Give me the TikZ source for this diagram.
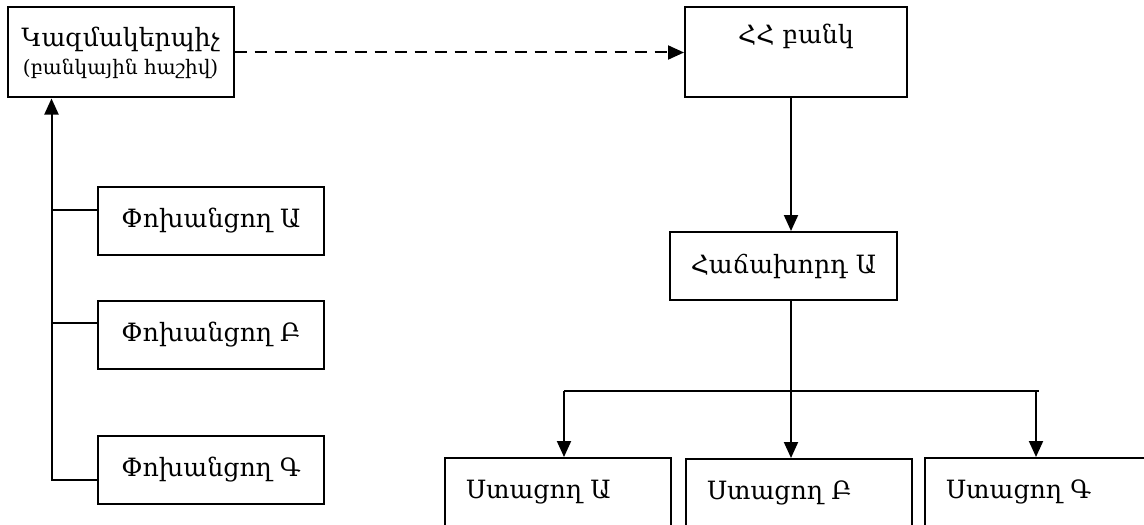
\documentclass[tikz,border=0pt]{standalone}
\usepackage{fontspec}
\setmainfont{DejaVu Serif}
\usetikzlibrary{arrows.meta,positioning,calc}

\begin{document}
\begin{tikzpicture}[
    x=0.5pt, y=-0.5pt,
    box/.style={rectangle, draw=black, line width=1pt, minimum width=113pt, minimum height=34pt, align=center, font=\fontsize{12.6}{14}\selectfont, inner sep=0pt},
    topbox/.style={box, minimum height=45pt},
    bankbox/.style={topbox, minimum width=111pt, text height=10pt, text depth=19pt},
    recv/.style={box, anchor=north west, text width=92pt, align=left, inner xsep=10.5pt, inner ysep=0pt, text height=20pt, text depth=40pt},
    arrow/.style={-{Triangle[length=8pt,width=7pt]}, line width=1pt, black},
    link/.style={line width=1pt, black},
]

\useasboundingbox (0,0) rectangle (1144,524);

% --- Payer side ---
\node[topbox] (org) at (120.5,52.5) {Կազմակերպիչ\\{\fontsize{10}{12}\selectfont (բանկային հաշիվ)}};
\node[box] (payA) at (211,221) {Փոխանցող Ա};
\node[box] (payB) at (211,334.5) {Փոխանցող Բ};
\node[box] (payC) at (211,469.5) {Փոխանցող Գ};

\coordinate (trunk) at ([xshift=22.5pt]org.south west);
\coordinate (tapA) at ([yshift=5.5pt]payA.west);
\coordinate (tapB) at ([yshift=5.75pt]payB.west);
\coordinate (tapC) at ([yshift=-5.25pt]payC.west);

\draw[arrow] (tapC) -| (trunk);
\draw[link] (tapA) -- (tapA -| trunk);
\draw[link] (tapB) -- (tapB -| trunk);

% --- Bank side ---
\node[bankbox] (bank) at (796,52.5) {ՀՀ բանկ};
\node[box, minimum width=113.5pt] (client) at (783.5,266) {Հաճախորդ Ա};

\draw[arrow, dash pattern=on 6pt off 4pt] (org) -- (bank);

\coordinate (drop) at ([xshift=-2.5pt]bank.south);
\draw[arrow] (drop) -- (drop |- client.north);

% --- Receivers ---
\node[recv] (recA) at (444,457) {Ստացող Ա};
\node[recv] (recB) at (685,458) {Ստացող Բ};
\node[recv] (recC) at (924,457) {Ստացող Գ};

\coordinate (split) at (791,391);
\coordinate (brA) at (564,391);
\coordinate (brC) at (1036,391);

\draw[link] (drop |- client.south) -- (split);
\draw[link] (brA) -- ([xshift=1.5pt]brC);
\draw[arrow] (brA) -- (brA |- recA.north);
\draw[arrow] (split) -- (split |- recB.north);
\draw[arrow] (brC) -- (brC |- recC.north);

\end{tikzpicture}
\end{document}
